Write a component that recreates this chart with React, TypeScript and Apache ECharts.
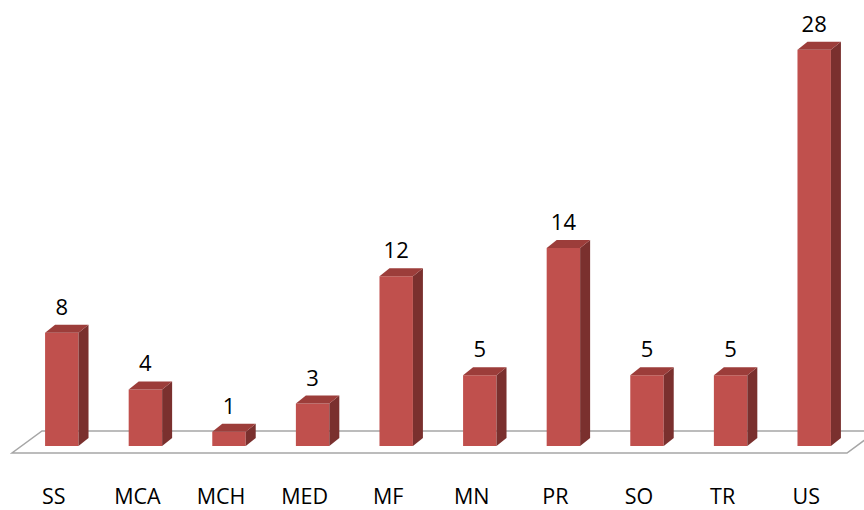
import React, { useEffect, useRef } from "react";
import * as echarts from "echarts";

const categories = ["SS", "MCA", "MCH", "MED", "MF", "MN", "PR", "SO", "TR", "US"];
const values = [8, 4, 1, 3, 12, 5, 14, 5, 5, 28];

const FONT = "'Open Sans', 'Noto Sans', sans-serif";

export default function App() {
  const ref = useRef<HTMLDivElement>(null);
  useEffect(() => {
    const chart = echarts.init(ref.current!, null, { renderer: "svg" });
    const DX = 10;
    const DY = 8;
    chart.setOption({
      animation: false,
      grid: { left: 20, right: 8, top: 21.5, bottom: 64 },
      xAxis: {
        type: "category",
        data: categories,
        axisLine: { show: false },
        axisTick: { show: false },
        axisLabel: {
          margin: 38,
          fontSize: 21.5,
          color: "#000",
          fontFamily: FONT,
          padding: [0, 16, 0, 0],
        },
      },
      yAxis: { type: "value", min: 0, max: 30, show: false },
      series: [
        {
          type: "custom",
          z: 1,
          silent: true,
          data: [[0, 0]],
          renderItem: (params: any, api: any) => {
            const cs = params.coordSys;
            const y0 = api.coord([0, 0])[1];
            const fy = y0 + 7;
            const by = y0 - 15;
            const fl = cs.x - 8;
            const fr = cs.x + cs.width - 9;
            return {
              type: "polygon",
              shape: { points: [[fl, fy], [fr, fy], [fr + 30, by], [fl + 30, by]] },
              style: { fill: "#fff", stroke: "#A6A6A6", lineWidth: 1.5 },
            };
          },
        },
        {
          type: "custom",
          z: 2,
          silent: true,
          data: values.map((v, i) => [i, v]),
          encode: { x: 0, y: 1 },
          renderItem: (params: any, api: any) => {
            const idx = api.value(0);
            const val = api.value(1);
            const top = api.coord([idx, val]);
            const base = api.coord([idx, 0]);
            const w = api.size([1, 0])[0] * 0.4;
            const xl = top[0] - w / 2;
            const xr = top[0] + w / 2;
            const yt = top[1];
            const yb = base[1];
            return {
              type: "group",
              children: [
                {
                  type: "polygon",
                  shape: { points: [[xl, yb], [xr, yb], [xr, yt], [xl, yt]] },
                  style: { fill: "#C0504D" },
                },
                {
                  type: "polygon",
                  shape: { points: [[xr, yb], [xr + DX, yb - DY], [xr + DX, yt - DY], [xr, yt]] },
                  style: { fill: "#7A302E" },
                },
                {
                  type: "polygon",
                  shape: { points: [[xl, yt], [xr, yt], [xr + DX, yt - DY], [xl + DX, yt - DY]] },
                  style: { fill: "#9C3D3A" },
                },
                {
                  type: "text",
                  x: top[0],
                  y: yt - DY - 8,
                  style: {
                    text: String(val),
                    align: "center",
                    verticalAlign: "bottom",
                    fontSize: 22,
                    fontFamily: FONT,
                    fill: "#000",
                  },
                },
              ],
            };
          },
        },
      ],
    });
    return () => chart.dispose();
  }, []);
  return (
    <div
      ref={ref}
      style={{ position: "fixed", left: 0, top: 0, width: 864, height: 510, background: "#fff" }}
    />
  );
}
